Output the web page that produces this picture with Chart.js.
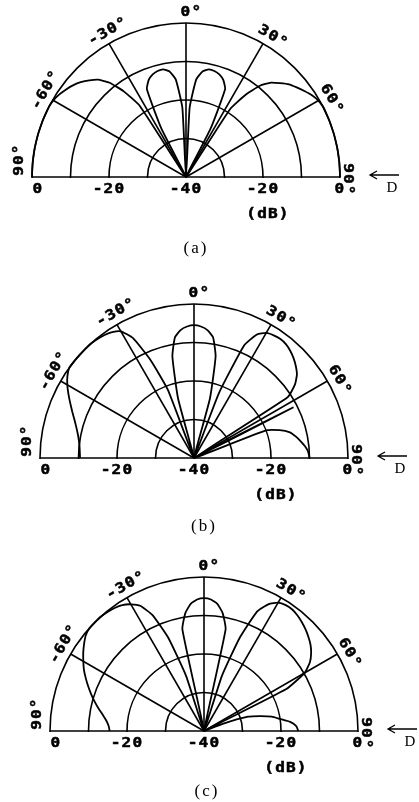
<!DOCTYPE html>
<html>
<head>
<meta charset="utf-8">
<script src="https://cdn.jsdelivr.net/npm/chart.js@4"></script>
<style>
  html, body { margin: 0; padding: 0; background: #fff; }
  body { width: 419px; height: 802px; position: relative; overflow: hidden; }
  canvas { position: absolute; left: 0; }
</style>
</head>
<body>
<canvas id="chartA" width="419" height="400"></canvas>
<canvas id="chartB" width="419" height="400"></canvas>
<canvas id="chartC" width="419" height="400"></canvas>
<script>
// sample directions, degrees from broadside (0° up, + to the right)
const angles = [-90,-87,-84,-81,-78,-75,-72,-69,-66,-63,-60,-57,-54,-51,-48,-45,-42,-39,-36,-33,-30,-27,-24,-21,-18,-15,-12,-9,-6,-3,
  0,3,6,9,12,15,18,21,24,27,30,33,36,39,42,45,48,51,54,57,60,63,66,69,72,75,78,81,84,87,90];

// levels in dB
const patternA = [0,0,0,0,0,0,0,0,0,0,
  -0.2,-0.7,-1.4,-2.2,-3.2,-4.5,-6,-8.5,-12.5,-18,-40,-26,-15,-13,-12,-11.5,-11.4,-12.2,-14.5,-22,
  -40,
  -22,-14.5,-12.2,-11.4,-11.5,-12,-13,-15,-26,-40,-19,-13.5,-9.5,-7,-5.5,-4,-3,-2,-1,-0.3,
  0,0,0,0,0,0,0,0,0,0];
const patternB = [-10.4,-10.3,-10.1,-9.7,-9.1,-8.3,-7.3,-6.1,-4.8,-3.4,
  -2,-0.8,0,0,0,0,0,-0.2,-0.5,-1,-2,-5,-12,-21,-40,-24,-13,-8.3,-6.6,-5.8,
  -5.5,
  -5.8,-6.6,-8.3,-13,-24,-40,-22,-8,-4,-2.5,-2,-1.8,-2,-2.6,-3.4,-4.4,-5.6,-7.6,-11,-40,
  -11,-40,-20,-16.6,-14.2,-13,-12,-11,-10.3,-10];
const patternC = [-15.5,-15.2,-14.5,-13.4,-12,-10.6,-9.2,-7.8,-6.4,-5,
  -3.8,-2.6,-1.5,-0.5,0,0,0,-0.2,-0.5,-1,-2,-3.5,-7,-14,-25,-40,-13,-9,-6.8,-5.8,
  -5.5,
  -5.8,-6.8,-9,-13,-40,-25,-14,-6,-3,-1.5,-1,-1,-1.4,-2,-2.7,-3.5,-4.4,-5.6,-7.2,
  -9.8,-16,-40,-35,-28,-25,-22,-20,-17.5,-16,-15.5];

const angleTicks = [-90, -60, -30, 0, 30, 60, 90];
const angleTickText = ['90', '-60', '-30', '0', '30', '60', '90'];
const dbTicks = [-40, -30, -20, -10, 0];
const dbLabelled = [-40, -20, 0];

const STEP = 3;
const fullCircle = [];
for (let a = 0; a < 360; a += STEP) fullCircle.push(a);

function toRadar(values) {
  return fullCircle.map(a => {
    const i = angles.indexOf(a > 180 ? a - 360 : a);
    return i < 0 ? null : values[i];
  });
}
const labelIndex = t => ((t + 360) % 360) / STEP;

function plotFont(ctx) {
  ctx.font = 'bold 14px "DejaVu Sans Mono"';
  ctx.letterSpacing = '1px';
  ctx.fillStyle = '#000';
  ctx.strokeStyle = '#000';
  ctx.lineWidth = 0.5;
  ctx.textBaseline = 'middle';
}

function angleLabel(ctx, num, rot, x, y) {
  ctx.save();
  ctx.translate(x, y);
  ctx.rotate(rot * Math.PI / 180);
  ctx.scale(1.15, 1);
  plotFont(ctx);
  ctx.textAlign = 'left';
  const x0 = -ctx.measureText(num).width / 2;
  ctx.fillText(num + '°', x0, 0);
  ctx.strokeText(num + '°', x0, 0);
  ctx.restore();
}

function plainLabel(ctx, text, x, y) {
  ctx.save();
  ctx.translate(x, y);
  ctx.scale(1.15, 1);
  plotFont(ctx);
  ctx.textAlign = 'center';
  ctx.fillText(text, 0, 0);
  ctx.strokeText(text, 0, 0);
  ctx.restore();
}

// only the upper half of the polar grid is drawn
const halfPlane = {
  id: 'halfPlane',
  beforeDraw(chart) {
    const ctx = chart.ctx;
    ctx.save();
    ctx.beginPath();
    ctx.rect(0, 0, chart.width, chart.scales.r.yCenter + 1);
    ctx.clip();
  },
  beforeDatasetsDraw(chart) {
    chart.ctx.restore();
  }
};

const annotations = {
  id: 'annotations',
  afterDraw(chart, args, opts) {
    const ctx = chart.ctx, r = chart.scales.r;
    const xc = r.xCenter, yc = r.yCenter, R = r.drawingArea;

    angleTicks.forEach((t, i) => {
      const p = r.getPointPosition(labelIndex(t), R + (t === -90 ? 13 : t === 90 ? 8 : 11));
      angleLabel(ctx, angleTickText[i], t, p.x, p.y - (t === -90 ? 12 : t === 90 ? 3 : 0));
    });

    dbLabelled.forEach(v => {
      const d = r.getDistanceFromCenterForValue(v);
      if (d === 0) {
        plainLabel(ctx, String(v), xc, yc + 12);
      } else {
        plainLabel(ctx, String(v), xc - d + (v === 0 ? 6 : 0), yc + 12);
        plainLabel(ctx, String(v), xc + d, yc + 12);
      }
    });
    plainLabel(ctx, '(dB)', xc + 82, yc + 37);

    // incidence arrow
    ctx.save();
    ctx.strokeStyle = '#000';
    ctx.lineWidth = 1.3;
    ctx.beginPath();
    ctx.moveTo(xc + R + 59, yc - 2);
    ctx.lineTo(xc + R + 30, yc - 2);
    ctx.moveTo(xc + R + 37, yc - 6);
    ctx.lineTo(xc + R + 30, yc - 2);
    ctx.lineTo(xc + R + 37, yc + 2);
    ctx.stroke();
    ctx.font = '15px "Liberation Serif"';
    ctx.fillStyle = '#000';
    ctx.textAlign = 'center';
    ctx.textBaseline = 'middle';
    ctx.fillText('D', xc + R + 52, yc + 11);
    ctx.font = '17px "Liberation Serif"';
    ctx.letterSpacing = '2px';
    ctx.fillText(opts.caption, xc + opts.capDx, yc + opts.capDy);
    ctx.restore();
  }
};

const plots = [
  { id: 'chartA', values: patternA, cx: 186, cy: 177, caption: '(a)', capDx: 10, capDy: 72 },
  { id: 'chartB', values: patternB, cx: 194, cy: 458, caption: '(b)', capDx: 10, capDy: 69 },
  { id: 'chartC', values: patternC, cx: 204, cy: 731, caption: '(c)', capDx: 3, capDy: 61 }
];

plots.forEach(p => {
  const canvas = document.getElementById(p.id);
  canvas.style.top = (p.cy - 200) + 'px';
  new Chart(canvas, {
    type: 'radar',
    data: {
      labels: fullCircle.map(a => a + '°'),
      datasets: [{
        data: toRadar(p.values),
        borderColor: '#000',
        borderWidth: 1.8,
        pointRadius: 0,
        fill: false,
        tension: 0.15,
        spanGaps: false
      }]
    },
    options: {
      responsive: false,
      animation: false,
      events: [],
      layout: { padding: { left: p.cx - 154, right: 419 - p.cx - 154, top: 46, bottom: 46 } },
      plugins: {
        legend: { display: false },
        tooltip: { enabled: false },
        annotations: { caption: p.caption, capDx: p.capDx, capDy: p.capDy }
      },
      scales: {
        r: {
          min: dbTicks[0],
          max: dbTicks[dbTicks.length - 1],
          ticks: { stepSize: 10, display: false },
          pointLabels: { display: false },
          grid: { circular: true, color: '#000', lineWidth: 1.6 },
          angleLines: {
            color: '#000',
            lineWidth: ctx => {
              const a = fullCircle[ctx.index];
              const t = a > 180 ? a - 360 : a;
              return angleTicks.includes(t) ? 1.6 : 0;
            }
          }
        }
      }
    },
    plugins: [halfPlane, annotations]
  });
});
</script>
</body>
</html>
